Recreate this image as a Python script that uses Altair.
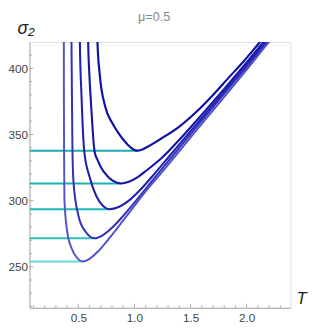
import altair as alt
import pandas as pd

# ---- data ----
title_text = "μ=0.5"

c1_T = [0.664, 0.671, 0.69, 0.74, 0.80, 0.85, 0.90, 0.94, 0.98, 1.02, 1.06, 1.11, 1.24, 1.40, 1.55, 1.69, 1.84, 1.98, 2.10, 2.16]
c1_s = [440, 419, 396, 371, 359, 352, 346.2, 342.3, 339.4, 337.8, 338.3, 340.4, 347, 356, 367, 379, 393, 406, 418, 424]

c2_T = [0.584, 0.588, 0.598, 0.615, 0.645, 0.67, 0.70, 0.76, 0.81, 0.88, 0.95, 1.03, 1.11, 1.24, 1.4, 1.6, 1.8, 2.0, 2.13, 2.2]
c2_s = [440, 419, 396, 371, 337, 331, 325.5, 318.5, 315, 313, 314.3, 317.8, 323, 332, 346, 365, 384.5, 404.5, 418, 425]

c3_T = [0.511, 0.514, 0.528, 0.553, 0.60, 0.66, 0.72, 0.78, 0.86, 0.95, 1.05, 1.15, 1.24, 1.4, 1.6, 1.8, 2.0, 2.16, 2.22]
c3_s = [440, 419, 380, 337, 318, 303.5, 296, 293.5, 295.2, 300, 308, 317.5, 326.5, 342.5, 362.5, 382.5, 402.5, 419, 425]

c4_T = [0.436, 0.439, 0.443, 0.448, 0.457, 0.50, 0.56, 0.645, 0.72, 0.8, 0.9, 1.0, 1.12, 1.24, 1.4, 1.6, 1.8, 2.0, 2.18, 2.23]
c4_s = [440, 419, 380, 337, 314, 289, 277, 271.5, 274, 279.5, 288.5, 298.5, 311, 323.5, 340, 360.5, 381, 401, 419, 424]

c5_T = [0.370, 0.371, 0.3715, 0.373, 0.376, 0.40, 0.44, 0.49, 0.54, 0.6, 0.68, 0.78, 0.9, 1.0, 1.12, 1.24, 1.4, 1.6, 1.8, 2.0, 2.19, 2.24]
c5_s = [440, 419, 380, 337, 301, 277, 264, 256.5, 254, 256, 262, 272, 285, 296, 309, 321, 337.5, 358, 378.5, 399, 419, 424]

min_s = [337.7, 313, 293.5, 271.5, 254]
min_T = [1.03, 0.88, 0.78, 0.645, 0.54]

x_major = [0.5, 1.0, 1.5, 2.0]
x_minor = [0.1, 0.2, 0.3, 0.4, 0.6, 0.7, 0.8, 0.9, 1.1, 1.2, 1.3, 1.4,
           1.6, 1.7, 1.8, 1.9, 2.1, 2.2, 2.3]
y_major = [250, 300, 350, 400]
y_minor = [220, 230, 240, 260, 270, 280, 290, 310, 320, 330, 340, 360,
           370, 380, 390, 410]

X_DOMAIN = [0.065, 2.39]
Y_DOMAIN = [219, 420]
W, H = 267, 272

curves = [("c1", c1_T, c1_s), ("c2", c2_T, c2_s), ("c3", c3_T, c3_s),
          ("c4", c4_T, c4_s), ("c5", c5_T, c5_s)]
rows = []
for name, ts, ss in curves:
    for i, (t, s) in enumerate(zip(ts, ss)):
        rows.append({"curve": name, "i": i, "T": t, "s": s})
df = pd.DataFrame(rows)

rules = pd.DataFrame({"curve": ["c1", "c2", "c3", "c4", "c5"],
                      "x0": [X_DOMAIN[0]] * 5, "x1": min_T, "s": min_s})

xs = alt.Scale(domain=X_DOMAIN, nice=False, zero=False)
ys = alt.Scale(domain=Y_DOMAIN, nice=False, zero=False)

names = ["c1", "c2", "c3", "c4", "c5"]
curve_colors = ["#0f0fa5", "#1515a8", "#2020ae", "#3232b8", "#5252ca"]
curve_widths = [2.0, 1.8, 1.5, 1.2, 0.9]
rule_colors = ["#1aadad", "#1db2b2", "#22b7b7", "#33bfbf", "#6ad5d5"]
rule_widths = [2.2, 2.0, 1.8, 1.5, 1.2]

base_axis_x = alt.Axis(values=x_major, format=".1f", ticks=False, grid=False,
                       domainColor="#aaaaaa", labelColor="#444444",
                       labelFontSize=12, labelFont="Liberation Sans",
                       labelPadding=5, title="T", titleFontStyle="italic",
                       titleFontWeight="normal", titleFontSize=17,
                       titleFont="Liberation Sans", titleColor="#222222",
                       titleX=W + 11, titleY=-9, titleAlign="center",
                       titleBaseline="middle", titleAngle=0)
base_axis_y = alt.Axis(values=y_major, ticks=False, grid=False,
                       domainColor="#aaaaaa", labelColor="#444444",
                       labelFontSize=12, labelFont="Liberation Sans",
                       labelPadding=2, title="σ₂", titleFontStyle="italic",
                       titleFontWeight="normal", titleFontSize=18,
                       titleFont="Liberation Sans", titleColor="#222222",
                       titleX=-4, titleY=-14, titleAlign="center",
                       titleBaseline="middle", titleAngle=0)

hlines = alt.Chart(rules).mark_rule(clip=True).encode(
    x=alt.X("x0:Q", scale=xs, axis=base_axis_x),
    x2="x1:Q",
    y=alt.Y("s:Q", scale=ys, axis=base_axis_y),
    color=alt.Color("curve:N", scale=alt.Scale(domain=names, range=rule_colors), legend=None),
    strokeWidth=alt.StrokeWidth("curve:N", scale=alt.Scale(domain=names, range=rule_widths), legend=None),
)

lines = alt.Chart(df).mark_line(clip=True, interpolate="monotone").encode(
    x=alt.X("T:Q", scale=xs),
    y=alt.Y("s:Q", scale=ys),
    order="i:Q",
    detail="curve:N",
    stroke=alt.Stroke("curve:N", scale=alt.Scale(domain=names, range=curve_colors), legend=None),
    strokeWidth=alt.StrokeWidth("curve:N", scale=alt.Scale(domain=names, range=curve_widths), legend=None),
)

tick_color = "#aaaaaa"
xmaj = alt.Chart(pd.DataFrame({"v": x_major})).mark_rule(color=tick_color, strokeWidth=1).encode(
    x=alt.X("v:Q", scale=xs), y=alt.value(H), y2=alt.value(H - 4))
xmin = alt.Chart(pd.DataFrame({"v": x_minor})).mark_rule(color=tick_color, strokeWidth=1).encode(
    x=alt.X("v:Q", scale=xs), y=alt.value(H), y2=alt.value(H - 2.5))
ymaj = alt.Chart(pd.DataFrame({"v": y_major})).mark_rule(color=tick_color, strokeWidth=1).encode(
    y=alt.Y("v:Q", scale=ys), x=alt.value(0), x2=alt.value(4))
ymin = alt.Chart(pd.DataFrame({"v": y_minor})).mark_rule(color=tick_color, strokeWidth=1).encode(
    y=alt.Y("v:Q", scale=ys), x=alt.value(0), x2=alt.value(2.5))

title_mark = alt.Chart(pd.DataFrame({"t": [title_text]})).mark_text(
    color="#888888", fontSize=13, font="Liberation Sans", align="center",
    baseline="alphabetic").encode(
    text="t:N", x=alt.value(W / 2 - 6), y=alt.value(-21))

chart = alt.layer(hlines, lines, xmaj, xmin, ymaj, ymin, title_mark).properties(
    width=W, height=H,
    autosize=alt.AutoSizeParams(type="none"),
    padding={"left": 22, "top": 31, "right": 20, "bottom": 17},
).configure_view(stroke=None).configure(background="white")

chart.save("out.html", embed_options={"renderer": "svg", "actions": False})
